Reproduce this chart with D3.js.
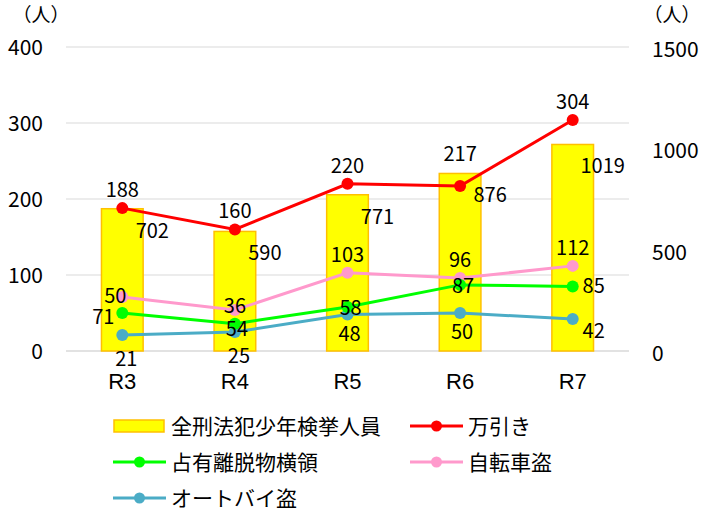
<!DOCTYPE html>
<html><head><meta charset="utf-8">
<script src="https://cdn.jsdelivr.net/npm/d3@7"></script>
<style>body{margin:0;background:#fff}svg{display:block}</style>
</head><body>
<svg id="c" width="701" height="508"></svg>
<script>
const categories = ["R3","R4","R5","R6","R7"];
const totalJuvenile = [702,590,771,876,1019];   // 全刑法犯少年検挙人員 (right axis)
const shoplifting = [188,160,220,217,304];      // 万引き
const embezzlement = [50,36,58,87,85];          // 占有離脱物横領
const bicycleTheft = [71,54,103,96,112];        // 自転車盗
const motorbikeTheft = [21,25,48,50,42];        // オートバイ盗
const leftTicks = [0,100,200,300,400];
const rightTicks = [0,500,1000,1500];

// label placement keywords (style, not data)
const place = {
  shoplifting: ["above","above","above","aboveHigh","above"],
  embezzlement: ["aboveLeft","above","center","center","right"],
  bicycleTheft: ["belowLeft","below","above","above","above"],
  motorbikeTheft: ["belowLow","belowLow","below","below","rightBelow"]
};
const offs = {
  above:[0,-18], aboveHigh:[0,-32], aboveLeft:[-7,-17], below:[2,19], belowLow:[4,24],
  belowLeft:[-19,20], center:[3,1], right:[21,0], rightBelow:[21,12]
};

const svg = d3.select("#c");
const W=701, H=508;
const m = {l:66, r:72, t:47, b:157};
const x = d3.scaleBand().domain(categories).range([m.l, W-m.r]);
const yL = d3.scaleLinear().domain([0,400]).range([H-m.b, m.t]);
const yR = d3.scaleLinear().domain([0,1500]).range([H-m.b, m.t]);
const cx = c => x(c) + x.bandwidth()/2;
const font = "'Noto Sans CJK JP','Noto Sans',sans-serif";

// gridlines
svg.append("g").selectAll("line").data(leftTicks).join("line")
  .attr("x1", m.l).attr("x2", W-m.r)
  .attr("y1", d=>yL(d)).attr("y2", d=>yL(d))
  .attr("stroke", "#d9d9d9").attr("stroke-width", d=>d===0?1.5:1);

// left axis
const gl = svg.append("g").attr("transform",`translate(${m.l-23},0)`)
  .call(d3.axisLeft(yL).tickValues(leftTicks).tickSize(0).tickPadding(0).tickFormat(d3.format("d")));
gl.select(".domain").remove();
gl.selectAll("text").attr("font-family",font).attr("font-size",21).attr("fill","#000").attr("dy","0.35em");

// right axis
const gr = svg.append("g").attr("transform",`translate(${W-m.r+23},0)`)
  .call(d3.axisRight(yR).tickValues(rightTicks).tickSize(0).tickPadding(0).tickFormat(d3.format("d")));
gr.select(".domain").remove();
gr.selectAll("text").attr("font-family",font).attr("font-size",21).attr("fill","#000").attr("dy","0.45em");

// units
svg.append("text").attr("x",41).attr("y",22).attr("text-anchor","middle")
  .attr("font-family",font).attr("font-size",19).text("（人）");
svg.append("text").attr("x",672).attr("y",22).attr("text-anchor","middle")
  .attr("font-family",font).attr("font-size",19).text("（人）");

// x labels
svg.append("g").selectAll("text").data(categories).join("text")
  .attr("x", d=>cx(d)).attr("y", H-m.b+38).attr("text-anchor","middle")
  .attr("font-family","'Liberation Sans',Arial,sans-serif").attr("font-size",22).text(d=>d);

// bars
const bw = x.bandwidth()*0.37;
svg.append("g").selectAll("rect").data(totalJuvenile).join("rect")
  .attr("x",(d,i)=>cx(categories[i])-bw/2).attr("width",bw)
  .attr("y",d=>yR(d)).attr("height",d=>yR(0)-yR(d))
  .attr("fill","#FFFF00").attr("stroke","#FFC000").attr("stroke-width",1.5);

const series = [
  {name:"オートバイ盗", key:"motorbikeTheft", vals:motorbikeTheft, color:"#4BACC6"},
  {name:"自転車盗", key:"bicycleTheft", vals:bicycleTheft, color:"#FF99CC"},
  {name:"占有離脱物横領", key:"embezzlement", vals:embezzlement, color:"#00FF00"},
  {name:"万引き", key:"shoplifting", vals:shoplifting, color:"#FF0000"}
];
const line = d3.line().x((d,i)=>cx(categories[i])).y(d=>yL(d));
series.forEach(s=>{
  svg.append("path").datum(s.vals).attr("d",line).attr("fill","none")
    .attr("stroke",s.color).attr("stroke-width",3);
  svg.append("g").selectAll("circle").data(s.vals).join("circle")
    .attr("cx",(d,i)=>cx(categories[i])).attr("cy",d=>yL(d)).attr("r",6).attr("fill",s.color);
});

// labels
const lab = svg.append("g").attr("font-family",font).attr("font-size",20).attr("fill","#000");
lab.selectAll("text.bar").data(totalJuvenile).join("text").attr("class","bar")
  .attr("x",(d,i)=>cx(categories[i])+30).attr("y",d=>yR(d)+22)
  .attr("text-anchor","middle").attr("dy","0.35em").text(d=>d);
series.forEach(s=>{
  lab.selectAll("text."+s.key).data(s.vals).join("text").attr("class",s.key)
    .attr("x",(d,i)=>cx(categories[i])+offs[place[s.key][i]][0])
    .attr("y",(d,i)=>yL(d)+offs[place[s.key][i]][1])
    .attr("text-anchor","middle").attr("dy","0.35em").text(d=>d);
});

// legend
const lg = svg.append("g").attr("font-family",font).attr("font-size",21);
const legendItems = [
  {name:"全刑法犯少年検挙人員", type:"bar", col:0, row:0},
  {name:"万引き", type:"line", color:"#FF0000", col:1, row:0},
  {name:"占有離脱物横領", type:"line", color:"#00FF00", col:0, row:1},
  {name:"自転車盗", type:"line", color:"#FF99CC", col:1, row:1},
  {name:"オートバイ盗", type:"line", color:"#4BACC6", col:0, row:2}
];
const colX = [113, 410], rowY = [426, 462, 498];
legendItems.forEach(it=>{
  const x0 = colX[it.col], y0 = rowY[it.row];
  if(it.type==="bar"){
    lg.append("rect").attr("x",x0+1).attr("y",y0-6).attr("width",50).attr("height",12)
      .attr("fill","#FFFF00").attr("stroke","#FFC000").attr("stroke-width",1.5);
  } else {
    lg.append("line").attr("x1",x0).attr("x2",x0+53).attr("y1",y0).attr("y2",y0)
      .attr("stroke",it.color).attr("stroke-width",3);
    lg.append("circle").attr("cx",x0+26.5).attr("cy",y0).attr("r",5.5).attr("fill",it.color);
  }
  lg.append("text").attr("x",x0+58).attr("y",y0).attr("dy","0.36em").text(it.name);
});
</script>
</body></html>
